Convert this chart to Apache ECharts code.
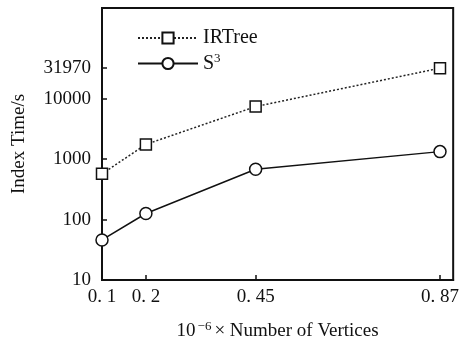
<html lang="en">
<head>
    <meta charset="UTF-8">
    <title>Index Time</title>
    <script src="https://cdn.jsdelivr.net/npm/echarts@6.0.0/dist/echarts.min.js"></script>
    <style>
        body { margin: 0; background: #fff; }
    </style>
</head>
<body>
    <div id="main" style="width: 462px;height:346px;"></div>
    <script type="text/javascript">
        // data
        var vertices = [0.1, 0.2, 0.45, 0.87];
        var irtree = [570, 1750, 7400, 31970];
        var s3 = [46, 126, 678, 1330];
        var yTicks = [10, 100, 1000, 10000, 31970];
        var xTicks = ['0. 1', '0. 2', '0. 45', '0. 87'];

        var font = 'Liberation Serif';
        var myChart = echarts.init(document.getElementById('main'));

        var option = {
            backgroundColor: '#fff',
            animation: false,
            grid: {
                left: 102, top: 8, right: 7, bottom: 61,
                show: true, borderColor: '#111', borderWidth: 2
            },
            legend: {
                left: 137, top: 28,
                padding: 0,
                orient: 'vertical',
                itemWidth: 60, itemHeight: 14, itemGap: 4,
                textStyle: {
                    fontFamily: font, fontSize: 20, color: '#111',
                    rich: { sup: { fontFamily: font, fontSize: 13, verticalAlign: 'top', padding: [0, 0, 10, 0], color: '#111' } }
                },
                formatter: function (name) {
                    return name === 'S3' ? 'S{sup|3}' : name;
                },
                data: ['IRTree', 'S3']
            },
            xAxis: {
                type: 'value',
                min: 0.1, max: 0.9,
                name: '{n|10}{sup|−6}{n|× Number of Vertices}',
                nameLocation: 'middle',
                nameGap: 40,
                nameTextStyle: {
                    rich: {
                        n: { fontFamily: font, fontSize: 19, color: '#111' },
                        sup: { fontFamily: font, fontSize: 13, color: '#111', verticalAlign: 'top', padding: [0, 3, 10, 2] }
                    }
                },
                axisLine: { lineStyle: { color: '#111', width: 2 } },
                axisTick: { inside: true, length: 5, customValues: vertices, lineStyle: { color: '#111', width: 1.5 } },
                axisLabel: {
                    customValues: vertices,
                    fontFamily: font, fontSize: 19, color: '#111', margin: 8,
                    formatter: function (v) {
                        return xTicks[vertices.indexOf(v)];
                    }
                },
                splitLine: { show: false }
            },
            yAxis: {
                type: 'log',
                min: 10, max: 316228,
                name: 'Index Time/s',
                nameLocation: 'middle',
                nameGap: 73,
                nameTextStyle: { fontFamily: font, fontSize: 19, color: '#111' },
                axisLine: { lineStyle: { color: '#111', width: 2 } },
                axisTick: { inside: true, length: 5, customValues: yTicks, lineStyle: { color: '#111', width: 1.5 } },
                axisLabel: {
                    customValues: yTicks,
                    fontFamily: font, fontSize: 19, color: '#111', margin: 11,
                    formatter: function (v) { return String(Math.round(v)); }
                },
                splitLine: { show: false }
            },
            series: [{
                name: 'IRTree',
                type: 'line',
                data: vertices.map(function (x, i) { return [x, irtree[i]]; }),
                symbol: 'rect',
                symbolSize: 11,
                itemStyle: { color: '#fff', borderColor: '#111', borderWidth: 1.5 },
                lineStyle: { color: '#222', width: 1.5, type: [2, 2] }
            }, {
                name: 'S3',
                type: 'line',
                data: vertices.map(function (x, i) { return [x, s3[i]]; }),
                symbol: 'circle',
                symbolSize: 12,
                itemStyle: { color: '#fff', borderColor: '#111', borderWidth: 1.5 },
                lineStyle: { color: '#111', width: 1.5 }
            }]
        };
        myChart.setOption(option);
    </script>
</body>
</html>
